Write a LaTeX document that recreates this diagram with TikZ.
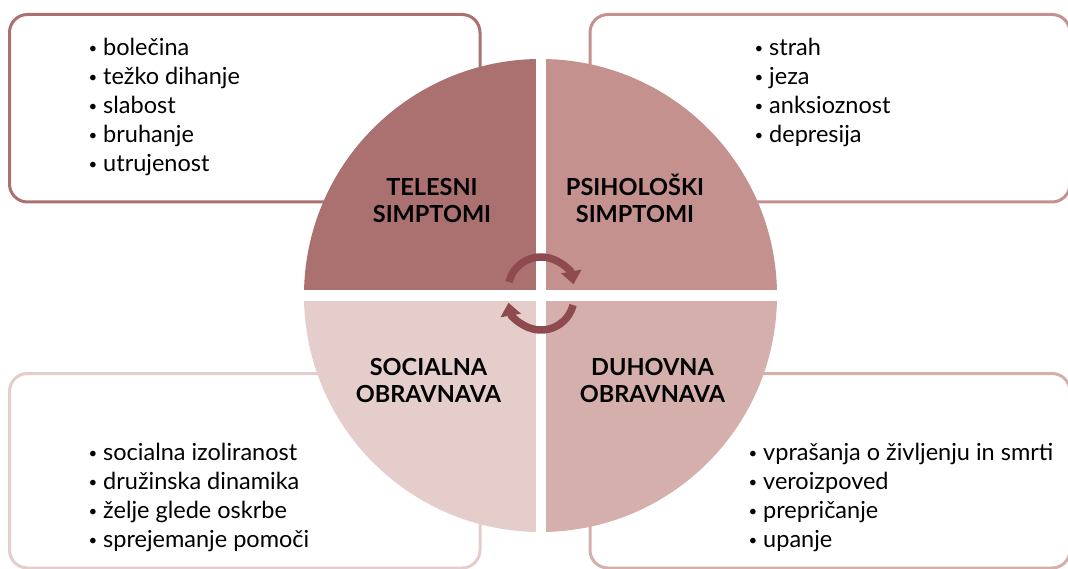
\documentclass[tikz,border=0pt]{standalone}
\usepackage{fontspec}
\setmainfont{Lato}
\usetikzlibrary{arrows.meta}
\definecolor{qA}{HTML}{AB7070}
\definecolor{qB}{HTML}{C4918F}
\definecolor{qC}{HTML}{E5CDCC}
\definecolor{qD}{HTML}{D5AFAC}
\definecolor{arrc}{HTML}{8E4A4E}
\newcommand{\bul}{\makebox[16pt][l]{\hspace{1.5pt}\raisebox{2pt}{\fontsize{15}{15}\selectfont\textbullet}}}
\begin{document}
\begin{tikzpicture}[x=1pt,y=-1pt,
  box/.style={line width=3pt, rounded corners=18pt},
  item/.style={anchor=base west, inner sep=0pt, font=\fontsize{23.5}{27}\selectfont},
  head/.style={anchor=base, inner sep=0pt, font=\bfseries\fontsize{23.5}{27}\selectfont},
  cyc/.style={draw=arrc, line width=7.5pt, -{Triangle[width=20pt,length=13pt]}}]
\useasboundingbox (0,0) rectangle (1068,569);
% boxes
\draw[box, draw=qA] (9.5,14.5) rectangle (480,202);
\draw[box, draw=qB] (590,14.5) rectangle (1070,202);
\draw[box, draw=qC] (9.5,373.5) rectangle (480,568);
\draw[box, draw=qD] (590,373.5) rectangle (1070,568);
% circle quadrants
\begin{scope}
  \clip (540.5,295.5) circle (236.5);
  \fill[qA] (300,55) rectangle (536,290);
  \fill[qB] (546,55) rectangle (780,290);
  \fill[qC] (300,301) rectangle (536,535);
  \fill[qD] (546,301) rectangle (780,535);
\end{scope}
% cycle arrows
\draw[cyc] ([shift={(-166:33)}]541,290) arc[start angle=-166, end angle=-10, radius=33];
\draw[cyc] ([shift={(14:33)}]541,297) arc[start angle=14, end angle=170, radius=33];
% headings
\node[head] (h1a) at (432,195.5) {TELESNI};
\node[head] (h1b) at (432,222.5) {SIMPTOMI};
\node[head] (h2a) at (635,195.5) {PSIHOLOŠKI};
\node[head] (h2b) at (635,222.5) {SIMPTOMI};
\node[head] (h3a) at (428.5,375.5) {SOCIALNA};
\node[head] (h3b) at (428.5,402.5) {OBRAVNAVA};
\node[head] (h4a) at (652.5,375.5) {DUHOVNA};
\node[head] (h4b) at (652.5,402.5) {OBRAVNAVA};
% lists
\foreach \t [count=\i] in {bolečina, težko dihanje, slabost, bruhanje, utrujenost}
  \node[item] (tl\i) at (87,56+29*\i-29) {\bul\t};
\foreach \t [count=\i] in {strah, jeza, anksioznost, depresija}
  \node[item] (tr\i) at (753,56+29*\i-29) {\bul\t};
\foreach \t [count=\i] in {socialna izoliranost, družinska dinamika, želje glede oskrbe, sprejemanje pomoči}
  \node[item] (bl\i) at (87,460+29*\i-29) {\bul\t};
\foreach \t [count=\i] in {vprašanja o življenju in smrti, veroizpoved, prepričanje, upanje}
  \node[item] (br\i) at (747,460+29*\i-29) {\bul\t};
\end{tikzpicture}
\end{document}
